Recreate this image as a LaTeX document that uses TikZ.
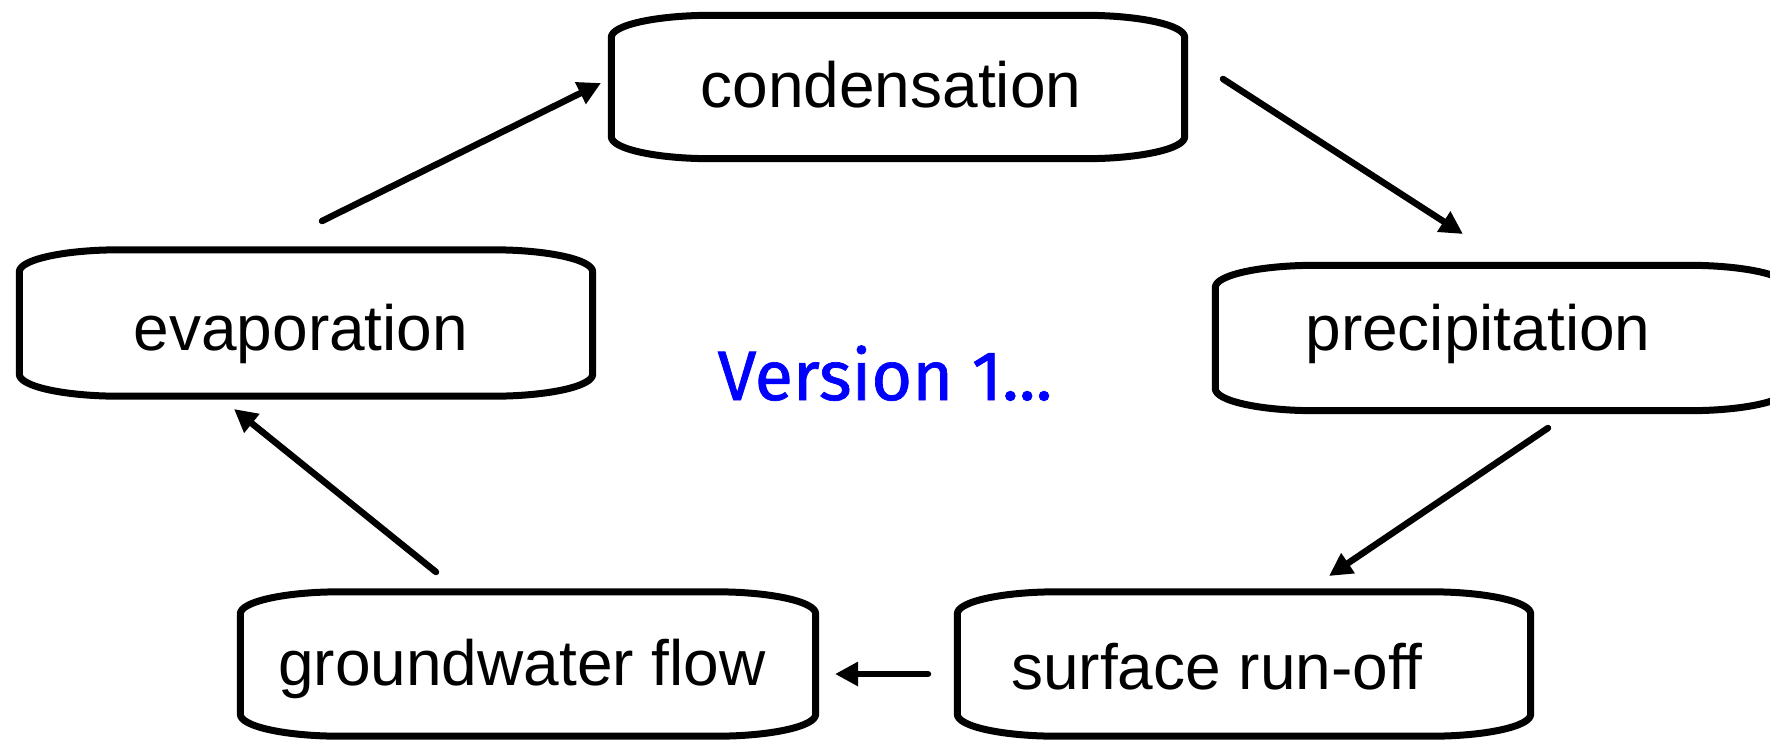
\documentclass[tikz,border=0pt]{standalone}
\usepackage{fontspec}
\setmainfont{Liberation Sans}
\newfontfamily\notefont[FakeBold=1]{Fira Sans}
\usetikzlibrary{arrows.meta,calc}

\definecolor{noteblue}{RGB}{0,0,255}

\tikzset{
  stage/.style={draw=none, minimum width=573pt, minimum height=145pt, inner sep=0pt},
  stageframe/.style={line width=7pt, line join=round},
  stagetext/.style={anchor=base, inner sep=0pt, font=\fontsize{64}{70}\selectfont},
  flow/.style={line width=6.5pt, line cap=round, -{Triangle[length=23pt,width=23pt]}},
}

% rounded frame with flattened elliptical corners around a stage node
\newcommand\drawstage[1]{%
  \draw[stageframe] ([yshift=-22pt]#1.north west) -- ([yshift=22pt]#1.south west)
    arc[start angle=180, end angle=270, x radius=100pt, y radius=22pt]
    -- ([xshift=-100pt]#1.south east)
    arc[start angle=270, end angle=360, x radius=100pt, y radius=22pt]
    -- ([yshift=-22pt]#1.north east)
    arc[start angle=0, end angle=90, x radius=100pt, y radius=22pt]
    -- ([xshift=100pt]#1.north west)
    arc[start angle=90, end angle=180, x radius=100pt, y radius=22pt]
    -- cycle;}

\begin{document}
\begin{tikzpicture}[x=1pt, y=-1pt]
  \useasboundingbox (0,0) rectangle (1770,740);

  % stages of the cycle
  \node[stage, minimum height=143pt] (cond)   at (898,87)  {};
  \node[stage, minimum height=146pt] (evap)   at (306,323) {};
  \node[stage]                       (precip) at (1502,338) {};
  \node[stage, minimum width=575pt, minimum height=144pt] (ground) at (528,664) {};
  \node[stage, minimum height=144pt] (surf)   at (1244,664) {};

  \foreach \s in {cond,evap,precip,ground,surf} {\drawstage{\s}}

  \node[stagetext] (condtxt)   at (891,107)  {condensation};
  \node[stagetext] (evaptxt)   at (301,350)  {evaporation};
  \node[stagetext] (preciptxt) at (1478,350) {precipitation};
  \node[stagetext] (groundtxt) at (522,685)  {groundwater flow};
  \node[stagetext] (surftxt)   at (1217,689) {surface run-off};

  \node[anchor=base, inner sep=0pt, text=noteblue,
        font=\notefont\fontsize{70}{78}\selectfont] (note) at (885,400) {Version 1...};

  % arrow ends between the stages
  \coordinate (e2c) at (322,221);  \coordinate (c2e) at (601,83);
  \coordinate (c2p) at (1223,79);  \coordinate (p2c) at (1463,234);
  \coordinate (p2s) at (1548,428); \coordinate (s2p) at (1329,576);
  \coordinate (s2g) at (928,674);  \coordinate (g2s) at (835,674);
  \coordinate (g2e) at (436,572);  \coordinate (e2g) at (234,409);

  \draw[flow] (e2c) -- (c2e);
  \draw[flow] (c2p) -- (p2c);
  \draw[flow] (p2s) -- (s2p);
  \draw[flow] (s2g) -- (g2s);
  \draw[flow] (g2e) -- (e2g);
\end{tikzpicture}
\end{document}
